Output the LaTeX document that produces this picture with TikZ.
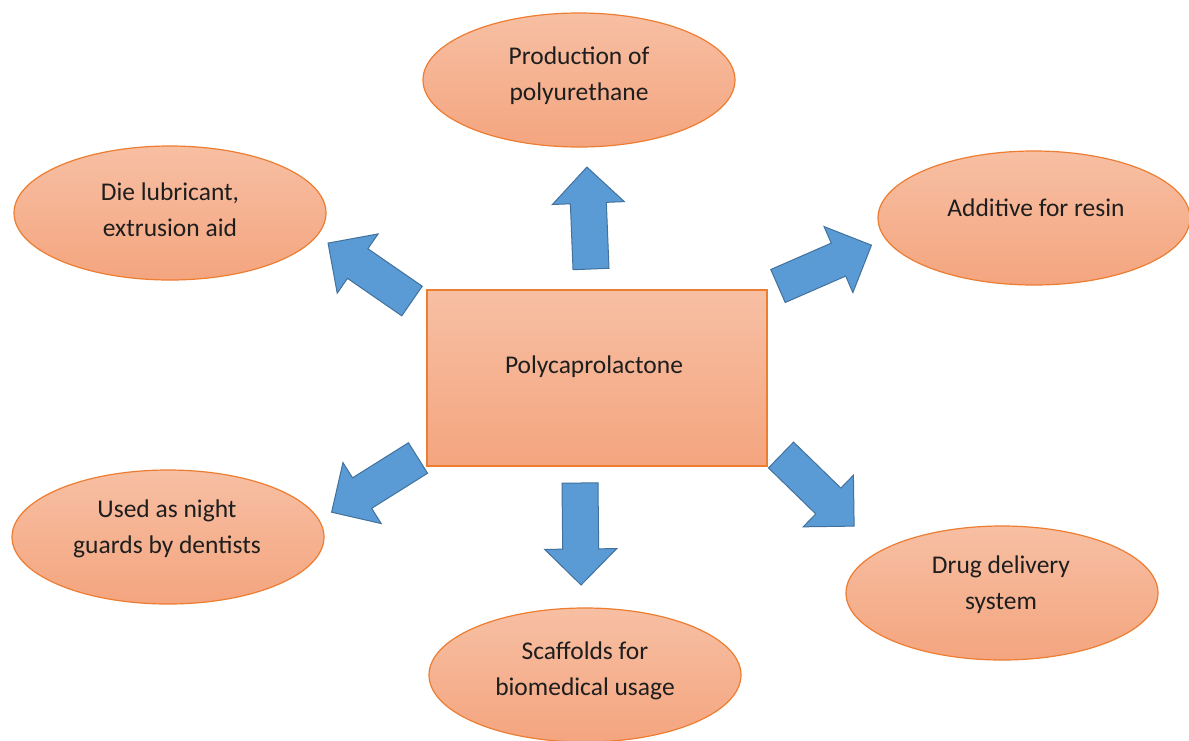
\documentclass[tikz,border=0pt]{standalone}
\usepackage{fontspec}
\setmainfont{Carlito}
\usetikzlibrary{shapes.geometric}
\definecolor{pfill1}{RGB}{247,191,163}
\definecolor{pfill2}{RGB}{244,165,127}
\definecolor{pborder}{RGB}{237,125,49}
\definecolor{afill}{RGB}{91,155,213}
\definecolor{aborder}{RGB}{65,113,156}
\definecolor{txt}{RGB}{30,30,30}
\tikzset{
  bubble/.style={ellipse, draw=pborder, line width=1.2pt, top color=pfill1, bottom color=pfill2,
    minimum width=312pt, minimum height=134pt, inner sep=0pt},
  centerbox/.style={rectangle, draw=pborder, line width=1.5pt, top color=pfill1, bottom color=pfill2,
    minimum width=340pt, minimum height=176pt, inner sep=0pt},
  lbl/.style={align=center, text=txt, font=\fontsize{25.5}{36}\selectfont, inner sep=0pt},
  blockarrow/.style={fill=afill, draw=aborder, line width=1pt, line join=miter},
}
\newcommand\bluearrow[2]{%
  \begin{scope}[shift={#1}, rotate=#2]
    \draw[blockarrow] (0,-18) -- (66,-18) -- (66,-36) -- (102,0) -- (66,36) -- (66,18) -- (0,18) -- cycle;
  \end{scope}}
\begin{document}
\begin{tikzpicture}[x=1pt, y=-1pt]
\useasboundingbox (0,0) rectangle (1189,740);
\fill[white] (0,0) rectangle (1189,740);

% centre
\node[centerbox] (pcl) at (597,378) {};
\node[lbl] (pcltext) at (594,367) {Polycaprolactone};

% outer ellipses
\node[bubble] (top) at (579,80) {};
\node[lbl] at (579,76) {Production of\\polyurethane};

\node[bubble] (tl) at (170,213) {};
\node[lbl] at (170,210) {Die lubricant,\\extrusion aid};

\node[bubble] (rt) at (1034,218) {};
\node[lbl] at (1036,208) {Additive for resin};

\node[bubble] (bl) at (168,537) {};
\node[lbl] at (167,529) {Used as night\\guards by dentists};

\node[bubble] (bt) at (585,675) {};
\node[lbl] at (585,671) {Scaffolds for\\biomedical usage};

\node[bubble] (br) at (1002,593) {};
\node[lbl] at (1001,585) {Drug delivery\\system};

% block arrows
\bluearrow{(591,269)}{92.3}
\bluearrow{(412,301)}{145.4}
\bluearrow{(778,286)}{23.6}
\bluearrow{(418,458)}{212.1}
\bluearrow{(580,483)}{-89.4}
\bluearrow{(781,455)}{-44.2}
\end{tikzpicture}
\end{document}
